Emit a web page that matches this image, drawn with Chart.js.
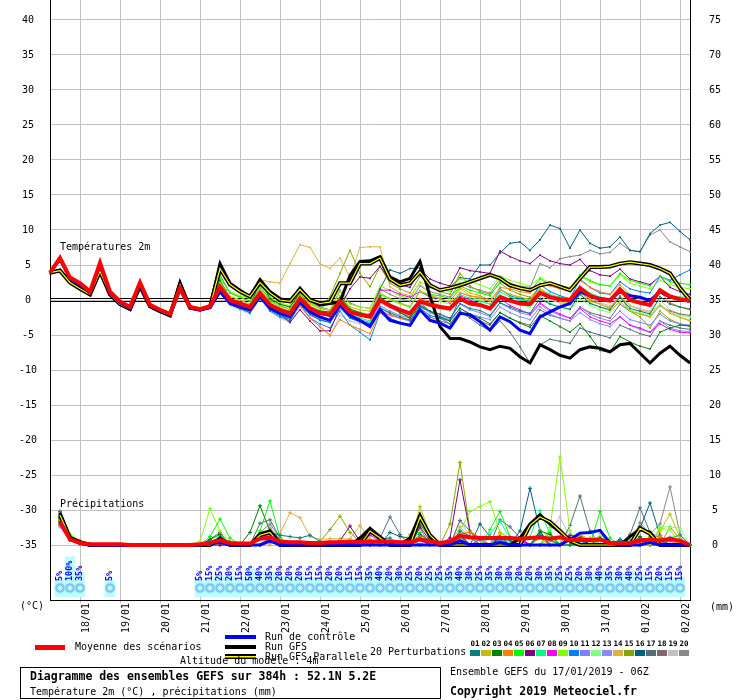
<!DOCTYPE html>
<html>
<head>
<meta charset="utf-8">
<script src="https://cdn.jsdelivr.net/npm/chart.js@4.4.0/dist/chart.umd.min.js"></script>
<style>body{margin:0;background:#fff}canvas{display:block}</style>
</head>
<body>
<canvas id="c" width="740" height="700"></canvas>
<script>
// echeances (heures depuis le 17/01/2019 06Z), pas de 6h
const hours = [0,6,12,18,24,30,36,42,48,54,60,66,72,78,84,90,96,102,108,114,120,126,132,138,144,150,156,162,168,174,180,186,192,198,204,210,216,222,228,234,240,246,252,258,264,270,276,282,288,294,300,306,312,318,324,330,336,342,348,354,360,366,372,378,384];
const dayLabels = ['18/01','19/01','20/01','21/01','22/01','23/01','24/01','25/01','26/01','27/01','28/01','29/01','30/01','31/01','01/02','02/02'];
const tempTicks = [-35,-30,-25,-20,-15,-10,-5,0,5,10,15,20,25,30,35,40];
const mmTicks = [0,5,10,15,20,25,30,35,40,45,50,55,60,65,70,75];

// probabilite de neige (%)
const snowPct = [null,5,100,35,null,null,5,null,null,null,null,null,null,null,null,5,15,
25,20,15,50,40,35,20,20,20,15,15,20,20,15,15,35,
40,20,30,25,20,25,25,35,40,30,25,35,30,30,20,20,
30,35,25,25,20,30,40,35,30,40,25,15,20,15,15,null];

const memberColors = ['#008080','#c0c000','#008000','#ff8000','#00ff00','#800080','#00ff80','#ff00ff','#80ff00','#0080ff',
'#8080ff','#80ff80','#8888ff','#e0b040','#80a800','#006080','#507078','#806870','#c0c0c0','#888888'];

// temperatures 2m
const tMean = [3.9,6.0,3.2,2.4,1.2,5.3,1.2,-0.2,-1.0,2.5,-0.7,-1.4,-2.0,1.7,-1.0,-1.3,-0.9,
1.9,0.0,-0.5,-1.0,1.0,-0.7,-1.4,-1.9,0.2,-1.2,-1.9,-2.1,-0.2,-1.7,-2.1,-2.4,
0.0,-0.8,-1.4,-1.9,-0.2,-0.7,-1.0,-1.2,0.2,-0.5,-0.7,-1.2,0.4,-0.1,-0.5,-0.6,
1.0,0.4,0.1,0.0,1.7,0.6,0.1,-0.1,1.5,0.0,-0.4,-0.7,1.4,0.5,0.1,-0.1];
const tControl = [3.9,5.8,3.0,2.2,1.0,5.0,1.0,-0.4,-1.2,2.2,-0.8,-1.5,-2.1,1.5,-1.1,-1.4,-1.1,
1.2,-0.5,-1.0,-1.4,0.5,-1.2,-1.9,-2.4,-0.3,-1.7,-2.4,-2.9,-0.7,-2.2,-2.9,-3.8,
-1.4,-2.9,-3.3,-3.6,-1.4,-2.9,-3.3,-4.0,-1.9,-2.1,-3.1,-4.3,-2.4,-3.1,-4.3,-4.8,
-2.4,-1.7,-1.0,-0.5,1.2,0.6,0.2,0.0,1.2,0.6,0.4,-0.1,1.2,0.4,0.1,-0.2];
const tGfs = [3.9,4.3,2.6,1.7,0.8,4.2,0.8,-0.5,-1.3,2.1,-0.9,-1.6,-2.2,2.5,-1.1,-1.4,-1.0,
5.2,2.4,1.4,0.5,2.9,1.2,0.2,-0.2,1.7,0.0,-0.7,-0.5,-0.3,3.5,5.5,5.6,
6.2,3.3,2.6,3.1,5.5,0.5,-3.8,-5.5,-5.5,-6.0,-6.7,-7.1,-6.6,-6.9,-8.1,-9.0,
-6.4,-7.1,-7.9,-8.3,-7.1,-6.7,-6.9,-7.4,-6.4,-6.2,-7.6,-9.0,-7.6,-6.6,-7.9,-9.0];
const tPara = [3.9,4.2,2.5,1.6,0.8,4.1,0.8,-0.6,-1.3,2.0,-0.9,-1.6,-2.2,2.2,-1.1,-1.4,-1.0,
4.5,2.2,1.2,0.5,2.5,1.0,0.0,-0.2,1.5,0.0,-0.5,-0.3,2.4,2.4,5.2,5.2,
6.0,3.0,2.1,2.4,4.0,2.1,1.4,1.7,2.1,2.6,3.1,3.6,3.1,2.1,1.7,1.4,
2.1,2.4,1.9,1.4,3.1,4.7,4.7,4.8,5.2,5.4,5.2,5.0,4.5,3.8,1.7,0.0];

const t01 = [4.0,5.8,3.1,2.3,1.1,5.1,1.1,-0.3,-1.1,2.3,-0.8,-1.5,-2.1,1.5,-1.1,-1.4,-1.0,
1.0,-0.6,-1.2,-1.8,0.2,-1.4,-2.2,-2.8,-0.6,-2.0,-2.9,-3.2,-1.0,-2.6,-3.1,-3.5,
-1.2,-1.8,-2.4,-2.9,-1.0,-1.6,-2.0,-2.6,-0.5,-1.2,-1.5,-2.2,-0.4,-1.0,-1.6,-1.9,
0.2,-0.6,-1.0,-1.3,0.8,-0.5,-1.0,-1.4,0.4,-1.2,-1.6,-2.0,0.5,-0.6,-1.0,-1.3];
const t02 = [3.9,6.1,3.3,2.5,1.3,5.4,1.3,-0.1,-0.9,2.6,-0.6,-1.3,-1.9,1.8,-0.9,-1.2,-0.8,
2.5,0.5,0.0,-0.6,1.6,-0.2,-0.9,-1.3,0.8,-0.6,-1.2,-1.5,0.6,-1.0,-1.4,-1.6,
1.0,0.2,-0.5,-0.9,1.2,0.6,0.2,-0.3,1.8,1.0,0.6,0.0,1.5,0.8,0.4,0.1,
1.6,0.5,-0.2,-0.6,0.8,-0.4,-1.0,-1.5,-0.2,-1.6,-2.0,-2.4,-0.8,-1.9,-2.5,-3.0];
const t03 = [3.8,5.9,3.1,2.3,1.1,5.2,1.1,-0.3,-1.1,2.4,-0.8,-1.5,-2.1,1.6,-1.0,-1.3,-0.9,
2.8,0.3,-0.8,-1.2,3.0,0.2,-0.6,-1.0,1.0,-1.0,-1.6,-1.7,0.5,-1.3,-1.8,-2.2,
0.6,-0.8,-1.8,-2.6,-0.8,-1.6,-2.4,-3.0,-1.2,-2.0,-2.6,-3.4,-1.8,-2.6,-3.3,-3.9,
-2.2,-3.0,-3.8,-4.6,-3.4,-5.2,-7.2,-7.5,-5.2,-6.0,-6.6,-7.0,-4.6,-4.0,-3.6,-3.7];
const t04 = [3.9,6.0,3.3,2.5,1.2,5.3,1.2,-0.1,-1.0,2.5,-0.6,-1.3,-2.0,1.7,-0.9,-1.3,-0.9,
1.6,-0.4,-1.0,-1.6,0.6,-1.2,-2.0,-2.6,-0.8,-2.6,-3.8,-5.0,-2.8,-3.6,-4.2,-4.8,
-1.8,-2.2,-2.6,-2.8,0.2,-0.2,-0.8,-1.0,1.0,0.6,0.4,-0.2,1.8,1.6,1.2,1.0,
2.4,2.0,1.6,1.2,2.8,1.8,1.2,0.8,2.2,0.8,0.2,-0.2,1.2,-0.4,-1.0,-1.4];
const t05 = [4.0,6.1,3.2,2.4,1.2,5.3,1.2,-0.2,-1.0,2.6,-0.7,-1.4,-2.0,1.8,-1.0,-1.2,-0.9,
3.3,1.0,0.4,-0.2,2.0,0.0,-0.8,-1.3,0.6,-1.0,-1.6,-1.9,0.2,-1.4,-2.0,-2.3,
0.8,0.2,-0.4,-1.0,1.2,0.8,0.6,0.2,2.0,1.4,1.0,0.6,2.6,2.0,1.6,1.2,
3.0,2.2,1.8,1.6,3.6,2.8,2.2,2.0,3.8,2.8,2.4,2.0,3.4,2.6,2.4,2.2];
const t06 = [3.9,5.9,3.2,2.4,1.2,5.2,1.3,-0.2,-1.0,2.4,-0.7,-1.3,-1.8,1.5,-1.2,-1.4,-1.0,
1.4,-0.4,-1.0,-1.4,0.8,-1.0,-2.0,-3.2,-1.4,-3.0,-4.4,-4.4,-1.0,1.6,3.3,3.1,
4.8,2.8,2.2,1.8,4.4,3.0,2.4,2.0,4.6,4.2,4.0,3.8,7.0,6.2,5.6,5.2,
6.4,5.6,5.2,5.0,5.8,4.2,3.6,3.4,4.4,3.0,2.6,2.2,3.4,1.8,1.2,0.8];
const t07 = [3.9,6.0,3.2,2.4,1.2,5.3,1.2,-0.2,-1.0,2.5,-0.7,-1.4,-2.0,1.7,-1.0,-1.3,-0.9,
2.2,0.2,-0.4,-1.0,1.2,-0.6,-1.6,-2.2,-0.2,-1.8,-2.4,-2.8,-0.6,-2.0,-2.6,-3.0,
0.4,-0.6,-1.4,-2.0,0.2,-0.6,-1.0,-1.4,0.8,0.2,-0.2,-0.6,1.2,0.4,0.0,-0.2,
1.6,0.8,0.4,0.2,2.0,1.0,0.4,0.2,1.8,0.6,0.2,0.0,1.6,0.6,0.4,0.5];
const t08 = [3.9,6.0,3.2,2.4,1.2,5.3,1.2,-0.2,-1.0,2.5,-0.7,-1.4,-2.0,1.7,-1.0,-1.3,-0.9,
1.8,0.0,-0.6,-1.0,1.0,-0.8,-1.4,-2.0,0.2,-1.2,-2.0,-2.2,-0.4,-1.6,-2.2,-2.0,
1.4,1.4,0.8,0.4,1.2,0.4,0.2,-0.4,0.6,0.0,-0.6,-1.0,0.2,-0.8,-1.4,-2.0,
-0.4,-1.4,-2.0,-2.6,-1.2,-2.4,-3.0,-3.4,-2.4,-3.6,-4.0,-4.6,-3.4,-4.2,-4.6,-4.7];
const t09 = [4.0,6.0,3.3,2.5,1.3,5.3,1.3,-0.1,-0.9,2.6,-0.6,-1.2,-1.9,1.9,-0.8,-1.1,-0.7,
3.0,1.2,0.6,0.2,2.4,0.4,-0.4,-0.8,1.2,-0.4,-1.2,-1.4,1.2,-0.6,-1.0,-1.2,
2.0,1.4,0.6,0.2,2.6,2.0,1.6,1.2,3.0,2.6,2.2,1.6,3.4,2.8,2.4,2.0,
3.2,2.4,2.0,1.8,3.4,2.6,2.2,2.0,3.6,2.4,2.0,1.6,2.8,2.2,1.8,1.6];
const t10 = [3.8,5.9,3.1,2.3,1.1,5.2,1.1,-0.3,-1.1,2.4,-0.8,-1.5,-2.1,1.6,-1.1,-1.4,-1.0,
1.5,-0.6,-1.2,-1.8,0.6,-1.6,-2.4,-3.0,-0.6,-2.6,-3.4,-4.0,-1.6,-3.6,-4.6,-5.7,
-1.8,-2.6,-3.2,-3.6,-1.2,-2.2,-2.6,-3.0,0.4,-0.4,-0.8,-1.2,1.6,0.6,0.2,-0.2,
2.2,1.2,0.6,0.2,3.0,1.8,1.0,0.8,2.6,1.6,1.2,1.0,3.4,2.8,3.6,4.3];
const t11 = [3.9,6.0,3.2,2.4,1.2,5.3,1.2,-0.2,-1.0,2.5,-0.7,-1.4,-2.0,1.7,-1.0,-1.3,-0.9,
1.6,-0.2,-0.8,-1.4,0.6,-1.0,-1.8,-2.4,-0.2,-1.6,-2.4,-2.8,-0.8,-2.2,-2.8,-3.2,
-0.8,-1.6,-2.2,-2.6,-0.6,-1.6,-2.2,-2.6,-0.6,-1.4,-1.8,-2.4,-0.4,-1.2,-1.8,-2.2,
-0.6,-1.6,-2.2,-2.6,-1.0,-2.0,-2.6,-3.0,-1.6,-2.8,-3.2,-3.6,-2.0,-3.0,-3.4,-3.6];
const t12 = [4.0,6.1,3.2,2.4,1.2,5.4,1.2,-0.2,-1.0,2.5,-0.7,-1.3,-2.0,1.7,-1.0,-1.3,-0.9,
2.6,0.6,0.0,-0.6,1.8,-0.2,-1.0,-1.4,0.8,-0.8,-1.4,-1.8,0.2,-1.2,-1.8,-2.0,
0.8,0.0,-0.6,-1.0,1.4,0.4,-0.2,-0.6,1.2,0.4,0.0,-0.6,0.8,0.0,-0.6,-1.0,
0.6,-0.4,-1.0,-1.4,0.2,-0.8,-1.4,-1.8,-0.2,-1.4,-1.8,-2.2,-0.6,-1.8,-2.2,-2.4];
const t13 = [3.9,5.9,3.1,2.3,1.1,5.2,1.1,-0.3,-1.1,2.4,-0.8,-1.5,-2.1,1.6,-1.1,-1.4,-1.0,
1.2,-0.6,-1.2,-1.6,0.2,-1.4,-2.2,-2.6,-0.6,-2.2,-2.8,-3.2,-1.2,-2.6,-3.2,-3.6,
-1.4,-2.2,-2.6,-3.0,-1.0,-1.8,-2.4,-2.8,-1.2,-2.0,-2.4,-2.8,-1.0,-1.8,-2.4,-2.8,
-1.0,-2.0,-2.6,-3.0,-1.8,-2.8,-3.4,-3.8,-2.4,-3.6,-4.2,-4.6,-3.0,-4.0,-4.4,-4.5];
const t14 = [3.9,6.0,3.3,2.5,1.2,5.3,1.2,-0.2,-1.0,2.5,-0.7,-1.4,-2.0,1.7,-1.0,-1.3,-0.9,
2.4,1.0,0.6,0.4,2.9,2.6,2.4,5.2,7.9,7.5,5.2,4.5,6.0,3.3,7.5,7.6,
7.6,1.9,1.0,0.6,2.4,0.8,0.2,-0.2,1.6,0.6,0.2,-0.2,1.4,0.8,0.4,0.0,
1.4,0.6,0.2,-0.2,1.0,-0.2,-0.6,-1.0,0.4,-0.8,-1.4,-1.8,-0.6,-1.8,-2.4,-2.9];
const t15 = [3.9,6.0,3.2,2.4,1.2,5.3,1.2,-0.2,-1.0,2.5,-0.7,-1.4,-2.0,1.7,-1.0,-1.3,-0.9,
2.0,0.0,-0.6,-1.0,1.2,-0.6,-1.2,-1.6,0.4,-1.0,-1.6,0.5,3.8,7.1,3.8,1.9,
4.8,2.4,1.6,1.0,3.4,2.0,1.2,0.8,3.8,2.0,1.2,0.8,2.4,1.4,0.8,0.4,
1.6,0.6,0.0,-0.4,1.2,0.0,-0.6,-1.2,0.6,-1.6,-2.4,-4.0,-1.6,-2.8,-3.4,-3.8];
const t16 = [3.9,6.0,3.2,2.4,1.2,5.3,1.2,-0.2,-1.0,2.5,-0.7,-1.4,-2.0,1.7,-1.0,-1.3,-0.9,
1.8,-0.2,-0.8,-1.2,0.8,-1.0,-1.6,-2.0,0.0,-1.4,-2.0,-2.4,0.0,-1.6,-2.0,-2.2,
1.6,4.3,3.8,4.5,4.6,1.8,1.4,1.8,3.2,3.0,5.0,5.0,6.7,8.1,8.3,7.1,
8.6,10.7,10.2,7.4,10.0,8.1,7.4,7.6,9.0,7.1,6.9,9.5,10.7,11.1,9.8,8.6];
const t17 = [3.8,5.9,3.1,2.3,1.1,5.2,1.1,-0.3,-1.1,2.4,-0.8,-1.5,-2.1,1.6,-1.1,-1.4,-1.0,
1.4,-0.6,-1.2,-1.8,0.4,-1.4,-2.0,-2.6,-0.4,-1.8,-2.6,-3.0,-1.0,-2.4,-3.0,-3.4,
0.2,-1.0,-1.8,-2.4,-0.4,-1.6,-2.6,-3.4,-1.6,-2.6,-3.6,-4.4,-3.0,-4.6,-6.7,-9.0,
-6.4,-5.6,-5.9,-6.2,-4.0,-4.6,-5.0,-5.4,-3.6,-4.2,-4.8,-5.2,-3.0,-3.6,-4.0,-4.2];
const t18 = [3.9,6.0,3.2,2.4,1.2,5.3,1.2,-0.2,-1.0,2.5,-0.7,-1.4,-2.0,1.7,-1.0,-1.3,-0.9,
1.6,-0.4,-1.0,-1.6,0.6,-1.2,-2.0,-2.4,-0.4,-2.0,-2.8,-3.2,-0.8,-2.4,-3.0,-3.4,
-1.0,-2.0,-2.6,-3.0,-1.6,-2.4,-3.0,-3.4,-1.6,-2.4,-3.0,-3.6,-1.8,-2.6,-3.2,-3.6,
-1.4,-2.2,-2.6,-3.0,-1.0,-1.8,-2.2,-2.6,-0.6,-1.6,-2.0,-2.4,-0.8,-1.6,-2.0,-2.2];
const t19 = [3.9,6.0,3.2,2.4,1.2,5.3,1.2,-0.2,-1.0,2.5,-0.7,-1.4,-2.0,1.7,-1.0,-1.3,-0.9,
1.0,-0.8,-1.4,-2.0,0.2,-1.6,-2.6,-3.2,-1.0,-2.6,-3.8,-5.2,-2.2,-3.0,-3.4,-3.6,
-0.4,-1.2,-1.8,-2.2,0.0,-0.8,-1.2,-1.6,0.4,-0.4,-0.8,-1.2,0.6,-0.2,-0.6,-1.0,
1.0,0.0,-0.4,-0.8,1.4,0.2,-0.4,-0.8,0.6,-0.8,-1.2,-1.6,0.0,-1.4,-2.0,-2.5];
const t20 = [4.0,6.2,3.3,2.5,1.3,5.4,1.3,-0.1,-0.9,2.6,-0.6,-1.3,-1.9,1.8,-0.9,-1.2,-0.8,
3.6,1.0,0.4,-0.2,1.8,0.2,-0.6,-1.0,1.2,-0.4,-1.0,-1.4,1.4,-0.4,-1.0,-1.2,
1.6,0.8,0.2,-0.2,2.0,1.2,0.8,0.4,2.4,1.8,1.4,1.0,3.0,2.4,2.0,1.8,
5.2,4.6,5.9,6.2,6.4,7.1,6.6,6.8,8.1,7.1,6.9,9.3,10.0,8.3,7.6,6.9];

// precipitations (mm / 6h)
const pMean = [null,3.3,0.8,0.3,0.1,0.1,0.1,0.1,0,0,0,0,0,0,0,0.1,0.3,
0.7,0.3,0.2,0.2,0.9,1.1,0.5,0.4,0.4,0.3,0.3,0.4,0.4,0.5,0.4,0.5,
0.5,0.5,0.4,0.4,0.8,0.5,0.3,0.5,1.3,1.1,1.0,1.0,1.0,1.0,0.9,1.0,
1.1,0.9,1.1,0.7,0.7,0.7,0.8,0.3,0.3,0.3,0.6,0.8,0.6,0.9,0.6,0.0];
const pControl = [null,3.4,0.8,0.2,0,0,0,0,0,0,0,0,0,0,0,0,0.2,
0.4,0,0,0,0,0.6,0,0,0,0,0,0,0,0,0,0,
0,0,0,0,0,0,0,0,0.6,0,0,0,0.4,0,0,0,
0,0,0,0.8,1.7,1.8,2.1,0.3,0,0,0,0.4,0,0,0,0];
const pGfs = [null,4.6,1.0,0.4,0,0,0,0,0,0,0,0,0,0,0,0,0,
1.0,0,0,0,1.6,2.0,0.4,0,0,0,0,0,0,0,1.0,2.4,
1.2,0,0,1.0,4.3,1.2,0,0,0,0,0,0,0,0,1.0,3.0,
4.3,3.0,1.8,0.8,0,0,0,0,0,1.2,2.2,1.8,0,0,0,0];
const pPara = [null,4.3,1.0,0.4,0,0,0,0,0,0,0,0,0,0,0,0,0,
0.8,0,0,0,1.4,1.8,0,0,0,0,0,0,0,0,0,2.0,
1.0,0,0,0,4.0,1.4,0,0,0,0,0,0,0,0,0,2.8,
4.0,3.3,2.0,0.6,0,0,0,0,0,0,2.4,1.6,0,0,0,0];

const p01 = [null,4.0,1.0,0.4,0.1,0,0,0,0,0,0,0,0,0,0,0,0.5,
1.0,0.4,0,0,1.2,1.8,1.4,1.2,1.0,1.4,0.5,0.3,0,0,0,0,
0.8,1.0,0,0,1.5,0.6,0,0,2.0,1.2,0,0,1.0,0.6,0,0,
1.4,0.8,0,0,0.6,0,0,0,0.8,0,0,0.5,0.8,0,0,0];
const p02 = [null,3.5,1.2,0.3,0,0,0,0,0,0,0,0,0,0,0,0,0,
0.8,0,0,0,1.0,1.5,0,0,0,0,0,0,0.8,0,0,0,
0,0,0,0,5.5,1.5,0,0,1.0,0,0,0,1.8,1.0,0,0,
0,0,0,0,1.5,0.8,0,0,0,0,0,0,2.0,4.4,1.0,0];
const p03 = [null,3.8,1.0,0.4,0,0,0,0,0,0,0,0,0,0,0,0,0.8,
1.5,0,0,1.8,5.6,2.0,0.5,0,0,0,0,0,0,0,0,0,
0,0,0,0,3.0,1.0,0,0,0,0,0,0,1.2,0,0,0,
2.0,1.5,0,0,0,0,1.0,0.5,0,0,1.2,0,0,0,0,0];
const p04 = [null,3.0,0.8,0.2,0,0,0,0,0,0,0,0,0,0,0,0,0,
0.6,0,0,0,0,1.0,0.5,0,0,0,0,0,0,0,1.0,0.8,
0,0,0,0,1.2,1.4,0,0,1.6,1.8,1.0,0,0,0,0,0,
1.0,0,0,0,1.4,0.6,0,0,0,0,0,0,1.2,0,0.6,0];
const p05 = [null,4.2,1.2,0.5,0,0,0,0,0,0,0,0,0,0,0,0,1.2,
3.7,1.0,0,0,2.0,6.3,1.0,0,0,0,0,0,0,0,0,0,
0,0,0,0.8,1.8,0,0,0,0,0,0,2.2,4.8,1.2,0,0,
0,1.8,0,0,0,0,4.8,1.0,0,0,0,1.2,0,0,0,0];
const p06 = [null,3.3,0.9,0.3,0,0,0,0,0,0,0,0,0,0,0,0,0,
0,0,0,0,0,0.8,0,0,0,0,0,0,0.6,2.7,0.5,0,
0,0,0,0,2.6,0.6,0,1.0,9.3,1.8,0.8,1.0,0,0,1.0,0,
0,0,0,1.4,1.0,0,0,0,0,0,0.8,0.6,0,0,0,0];
const p07 = [null,3.6,1.0,0.3,0,0,0,0,0,0,0,0,0,0,0,0,0,
1.2,0,0,0,1.5,1.2,0,0,0,0,0,0,0,0,0,0,
0,0,0,0,0,0,0,0,0,0,0,1.6,3.4,1.0,0,1.2,
4.9,1.6,0,0,0,1.0,0,0,0,0.8,0,0,0,0,0,0];
const p08 = [null,3.4,1.0,0.4,0,0,0,0,0,0,0,0,0,0,0,0,0,
0.6,0,0,0,0,0.4,0,0,0,0,0,0,0,0,0.8,1.4,
0.6,0,0,0,0.8,0,0,0,1.0,0,0.8,0,0,0,0.6,0,
0,0,0,0,0.8,0,0,0,0,0,1.0,0.8,0,0.6,0,0];
const p09 = [null,4.5,1.5,0.6,0,0,0,0,0,0,0,0,0,0,0,0.5,5.2,
2.0,0.5,0,0,1.8,2.2,0,0,0,0,0,0,0,0,0,0,
0,0,0,0,0,0,0,0,2.0,4.8,5.5,6.2,1.8,0.6,0,0,
0,2.5,12.6,2.0,0,0,1.2,0,0,0,0,0,2.4,2.2,0,0];
const p10 = [null,3.0,0.7,0.2,0,0,0,0,0,0,0,0,0,0,0,0,0,
0.6,0,0,0,1.0,0.8,0,0,0,0,0,0,0,0,0,0,
0.6,0,0,0,1.0,0,0,0,1.2,0,0,0,0.8,0,0,0,
1.4,0,0,0,0.6,0,0,0,0.8,0,0,0,0,1.0,1.4,0];
const p11 = [null,2.8,0.8,0.3,0,0,0,0,0,0,0,0,0,0,0,0,0,
0.5,0,0,0,0.8,1.0,0,0,0.4,0,0,0,0,0,0,0,
0,0,0,0,0.6,0,0,0,0.8,0,0,1.0,0,0,0.6,0,
0,0,0,0,0.8,0,0,0,0.5,0,0,0,0.6,0,0,0];
const p12 = [null,3.2,0.9,0.3,0,0,0,0,0,0,0,0,0,0,0,0,0,
1.5,0,0,0,0,1.8,0.8,0,0,0,0,0,0,0,0,0,
0,0,0,0,0,0,0,0,1.4,2.0,0,0,1.6,0,0,0,
2.2,1.0,0,0,0,0,1.6,0,0,0,0,0,2.6,2.6,2.4,0];
const p13 = [null,2.6,0.7,0.2,0,0,0,0,0,0,0,0,0,0,0,0,0,
0.4,0,0,0,0,0.6,0,0,0,0,0,0,0,0,0,0,
0,0,0,0,0.8,0,0,0,0.6,0,0,0,0.8,0,0,0,
0,0,0,0,0.6,0,0,0,0,0,0.6,0,0,0,0,0];
const p14 = [null,3.5,1.0,0.3,0,0,0,0,0,0,0,0,0,0,0,0,0,
0.6,0,0,0,0,0,1.6,4.6,3.9,1.2,0.8,0.9,0.9,0.9,2.8,0.8,
0,0,0,1.5,0.8,0,0,0,2.6,1.0,0,0,0,0,0,0,
0,1.0,0,0,0,0,0.8,0,0,0,0,0,1.2,0,0,0];
const p15 = [null,3.9,1.1,0.4,0,0,0,0,0,0,0,0,0,0,0,0,0,
0,0,0,0,0,1.0,0,0,0,0,0.5,2.2,4.1,1.8,0.4,0,
0,0,0,0,1.0,0.5,0,3.0,11.8,2.0,1.0,0,0,0,0,0,
1.2,0.6,0,0,0,0,0.8,0,0,0,0,0,0,2.6,0.8,0];
const p16 = [null,4.8,1.4,0.5,0,0,0,0,0,0,0,0,0,0,0,0,0,
0.8,0,0,0,0,1.2,0,0,0,0,0,0,0,0,0,0,
0,1.8,1.2,1.0,0,0,0,0,1.4,0,3.0,1.2,0,0,2.0,8.1,
2.0,0,0,1.0,1.4,0,0.8,0,0,0,2.4,6.0,1.4,0,0,0];
const p17 = [null,4.4,1.3,0.5,0,0,0,0,0,0,0,0,0,0,0,0,0.8,
1.8,0,0,0,3.1,3.6,1.0,0,0,0,0,0,0,0,0,0,
1.0,4.0,1.5,0,0,1.2,0,0,3.5,2.0,0,0,3.6,2.6,1.0,0,
0,0,0,2.8,7.0,2.0,0,0,0,1.5,5.3,1.8,1.0,0,0,0];
const p18 = [null,3.7,1.1,0.4,0,0,0,0,0,0,0,0,0,0,0,0,0,
0.8,0,0,0,1.2,2.4,0.8,0,0,0,0,0,0,0,0,0,
0,0,0,0,1.0,0,0,0,1.6,0,0,0,1.4,0,0,0,
1.8,0,0,0,1.2,0,0,0,0,1.4,2.6,1.8,0,0,0,0];
const p19 = [null,2.9,0.8,0.3,0,0,0,0,0,0,0,0,0,0,0,0,0,
0.4,0,0,0,0,0.8,0,0,0,0,0,0,0,0,0,0,
0,0,0,0,0,0,0,0,3.5,1.2,0,0,1.0,0,0,0,
0,2.0,4.0,1.0,0,0,0,0,0.6,0,2.0,1.6,0,1.2,0,0];
const p20 = [null,4.6,1.4,0.5,0,0,0,0,0,0,0,0,0,0,0,0,0,
1.2,0,0,0,1.8,3.0,1.0,0,0,0,0,0,0,0,0,0,
0,0,0,0,2.4,0,0,0,1.5,0,0,0,1.0,0,0,0,
1.8,0,0,0,1.6,0,0,0,0,0,3.2,1.5,3.0,8.3,1.5,0];

const tMembers = [t01,t02,t03,t04,t05,t06,t07,t08,t09,t10,t11,t12,t13,t14,t15,t16,t17,t18,t19,t20];
const pMembers = [p01,p02,p03,p04,p05,p06,p07,p08,p09,p10,p11,p12,p13,p14,p15,p16,p17,p18,p19,p20];

const MONO = "'DejaVu Sans Mono', monospace";
Chart.defaults.font.family = MONO;
Chart.defaults.font.size = 10;
Chart.defaults.color = '#000';

// traits d'une serie
function serie(data, color, width, axis, order, extra) {
    return Object.assign({
        type: 'line', data: data, yAxisID: axis, borderColor: color, backgroundColor: color,
        borderWidth: width, pointRadius: 0, tension: 0, fill: false, order: order
    }, extra || {});
}

const datasets = [];
datasets.push(serie(tMean, '#ff0000', 4, 'y', 0));
datasets.push(serie(pMean, '#ff0000', 4, 'y2', 0));
datasets.push(serie(tControl, '#0000ff', 3, 'y', 1));
datasets.push(serie(pControl, '#0000ff', 3, 'y2', 1));
datasets.push(serie(tPara, '#ffff00', 1.2, 'y', 2));
datasets.push(serie(pPara, '#ffff00', 1.2, 'y2', 2));
datasets.push(serie(tPara, '#000000', 4, 'y', 3));
datasets.push(serie(pPara, '#000000', 4, 'y2', 3));
datasets.push(serie(tGfs, '#000000', 3, 'y', 4));
datasets.push(serie(pGfs, '#000000', 3, 'y2', 4));
tMembers.forEach((d, k) => {
    datasets.push(serie(d, memberColors[k], 1, 'y', 5 + k, {pointRadius: 1.2, pointStyle: 'rect', pointBorderWidth: 0}));
});
pMembers.forEach((d, k) => {
    datasets.push(serie(d, memberColors[k], 1, 'y2', 5 + k, {pointRadius: 2, pointStyle: 'cross', pointBorderWidth: 1}));
});
// pictos neige
datasets.push({type: 'line', data: snowPct.map(p => p == null ? null : -41.15), yAxisID: 'y', showLine: false,
    pointStyle: 'star', pointRadius: 3, pointBorderColor: '#e8fbff', pointBorderWidth: 1, order: 29});
datasets.push({type: 'line', data: snowPct.map(p => p == null ? null : -41.15), yAxisID: 'y', showLine: false,
    pointStyle: 'circle', pointRadius: 5, pointBackgroundColor: '#6cc8f2', pointBorderColor: '#a4e2fb', pointBorderWidth: 1, order: 30});
// barres de probabilite
datasets.push({type: 'bar', data: snowPct.map(p => p == null ? null : [-42.4, -40.14 + p * 0.0346]), yAxisID: 'y',
    backgroundColor: '#c0fcfc', borderWidth: 0, barThickness: 10, order: 40});

const decor = {
    id: 'decor',
    beforeDatasetsDraw(chart) {
        const {ctx, chartArea: a, scales} = chart;
        const y0 = Math.round(scales.y.getPixelForValue(0));
        ctx.save();
        ctx.strokeStyle = '#000';
        ctx.lineWidth = 1;
        [y0 - 1.5, y0 + 1.5].forEach(py => {
            ctx.beginPath(); ctx.moveTo(a.left, py); ctx.lineTo(a.right, py); ctx.stroke();
        });
        ctx.restore();
    },
    afterDraw(chart) {
        const {ctx, scales} = chart;
        ctx.save();
        ctx.textBaseline = 'middle';
        ctx.fillStyle = '#000';
        ctx.font = '10px ' + MONO;
        ctx.fillText('Températures 2m', 60, 247);
        ctx.fillText('Précipitations', 60, 504);
        ctx.fillText('(°C)', 20, 606);
        ctx.fillText('(mm)', 710, 607);

        // pourcentages de neige
        ctx.font = 'bold 8.5px ' + MONO;
        ctx.fillStyle = '#0000ff';
        snowPct.forEach((p, i) => {
            if (p == null) return;
            const x = scales.x.getPixelForValue(i) - 0.5;
            ctx.save();
            ctx.translate(x, 581);
            ctx.rotate(-Math.PI / 2);
            ctx.textAlign = 'left';
            ctx.fillText(p + '%', 0, 0);
            ctx.restore();
        });

        // legende
        ctx.fillStyle = '#ff0000'; ctx.fillRect(35, 645, 30, 5);
        ctx.fillStyle = '#0000ff'; ctx.fillRect(225, 635, 31, 4);
        ctx.fillStyle = '#000'; ctx.fillRect(225, 645, 31, 4);
        ctx.fillStyle = '#000'; ctx.fillRect(225, 654, 31, 5);
        ctx.fillStyle = '#ffff00'; ctx.fillRect(225, 656, 31, 1.5);
        ctx.fillStyle = '#000';
        ctx.font = '10px ' + MONO;
        ctx.fillText('Moyenne des scénarios', 75, 647);
        ctx.fillText('Run de contrôle', 265, 637);
        ctx.fillText('Run GFS', 265, 647);
        ctx.fillText('Run GFS Parallele', 265, 657);
        ctx.fillText('Altitude du modèle : 4m', 180, 661);
        ctx.fillText('20 Perturbations', 370, 652);
        ctx.font = 'bold 7.5px ' + MONO;
        ctx.textAlign = 'center';
        memberColors.forEach((c, k) => {
            const x = 470 + 11 * k;
            ctx.fillStyle = c;
            ctx.fillRect(x, 650, 10, 6);
            ctx.fillStyle = '#000';
            ctx.fillText(String(k + 1).padStart(2, '0'), x + 5, 644);
        });
        ctx.textAlign = 'left';

        // cartouche
        ctx.strokeStyle = '#000';
        ctx.lineWidth = 1;
        ctx.strokeRect(20.5, 667.5, 420, 31);
        ctx.font = 'bold 11.5px ' + MONO;
        ctx.fillText('Diagramme des ensembles GEFS sur 384h : 52.1N 5.2E', 30, 677);
        ctx.font = '10px ' + MONO;
        ctx.fillText('Température 2m (°C) , précipitations (mm)', 30, 692);
        ctx.fillText('Ensemble GEFS du 17/01/2019 - 06Z', 450, 672);
        ctx.font = 'bold 11.5px ' + MONO;
        ctx.fillText('Copyright 2019 Meteociel.fr', 450, 692);
        ctx.restore();
    }
};

new Chart(document.getElementById('c'), {
    type: 'line',
    data: {labels: hours, datasets: datasets},
    options: {
        responsive: false,
        animation: false,
        devicePixelRatio: 1,
        events: [],
        layout: {padding: 0, autoPadding: false},
        plugins: {legend: {display: false}, tooltip: {enabled: false}},
        scales: {
            x: {
                type: 'category', offset: false,
                grid: {offset: false, tickLength: 3, color: c => (c.index % 4 === 3 ? '#c0c0c0' : 'rgba(0,0,0,0)')},
                border: {color: '#000'},
                ticks: {
                    autoSkip: false, minRotation: 90, maxRotation: 90, padding: 0, labelOffset: 6,
                    callback: (v, i) => (i % 4 === 3 ? dayLabels[(i - 3) / 4] : '')
                },
                afterFit: s => { s.height = 100; s.paddingLeft = 0; s.paddingRight = 0; }
            },
            y: {
                position: 'left', min: -300 / 7, max: 300 / 7,
                afterBuildTicks: s => { s.ticks = tempTicks.map(v => ({value: v})); },
                afterFit: s => { s.width = 50; s.paddingTop = 0; s.paddingBottom = 0; },
                grid: {color: '#c0c0c0', drawTicks: false},
                border: {color: '#000'},
                ticks: {padding: 13, crossAlign: 'center'}
            },
            y2: {
                position: 'right', min: -300 / 7 + 35, max: 300 / 7 + 35,
                afterBuildTicks: s => { s.ticks = mmTicks.map(v => ({value: v})); },
                afterFit: s => { s.width = 50; s.paddingTop = 0; s.paddingBottom = 0; },
                grid: {display: false, drawTicks: false},
                border: {color: '#000'},
                ticks: {padding: 19, crossAlign: 'center'}
            }
        }
    },
    plugins: [decor]
});
</script>
</body>
</html>
